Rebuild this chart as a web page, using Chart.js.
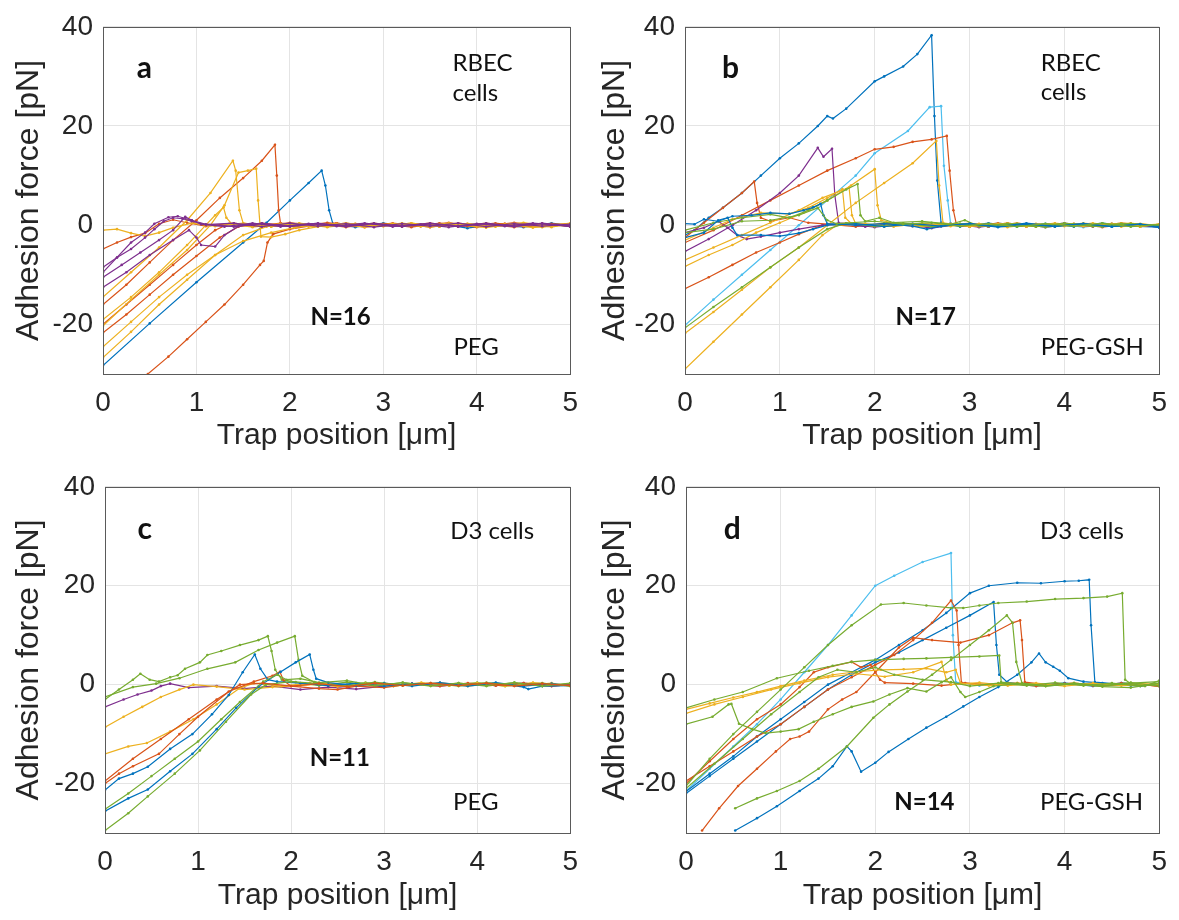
<!DOCTYPE html>
<html>
<head>
<meta charset="utf-8">
<script src="https://cdn.jsdelivr.net/npm/chart.js@4.4.1/dist/chart.umd.min.js"></script>
<style>
body{margin:0;background:#fff;}
#wrap{position:relative;width:1179px;height:920px;}
canvas{position:absolute;}
</style>
</head>
<body>
<div id="wrap">
<canvas id="pa" width="590" height="460" style="left:0;top:0"></canvas>
<canvas id="pb" width="589" height="460" style="left:590px;top:0"></canvas>
<canvas id="pc" width="590" height="460" style="left:0;top:460px"></canvas>
<canvas id="pd" width="589" height="460" style="left:590px;top:460px"></canvas>
</div>
<script>
// axis ticks
const xTicks = [0, 1, 2, 3, 4, 5];
const yTicks = [-20, 0, 20, 40];

// traces, [trap position um, force pN]
// a: RBEC cells, PEG
const panelA = [
  [[0,-28.3],[0.5,-19.8],[1,-11.5],[1.5,-3.5],[1.75,0.5],[2,5],[2.2,8.5],[2.34,11],[2.38,8],[2.42,3],[2.46,0.3],[2.7,-0.4],[3,0.4],[3.3,-0.3],[3.6,0.3],[3.9,-0.6],[4.2,0.2],[4.5,-0.4],[4.8,0.4],[5,-0.1]],
  [[0,-4.8],[0.15,-3.5],[0.3,-2.4],[0.45,-1.6],[0.6,0.3],[0.75,1.1],[0.9,0.5],[1.1,-0.2],[1.4,0.4],[1.7,-0.3],[2,0.5],[2.3,-0.2],[2.6,0.4],[2.9,-0.3],[3.2,0.3],[3.5,-0.4],[3.8,0.4],[4.1,-0.2],[4.4,0.5],[4.7,-0.3],[5,0.3]],
  [[0,-16],[0.25,-12],[0.5,-7.5],[0.75,-3],[1,1],[1.25,5.5],[1.5,9.5],[1.7,13],[1.84,16.2],[1.86,10],[1.88,3],[1.9,0.4],[2.1,-0.3],[2.4,0.5],[2.7,-0.2],[3,0.3],[3.3,-0.4],[3.6,0.4],[3.9,-0.2],[4.2,0.4],[4.5,-0.3],[4.8,0.3],[5,0]],
  [[0,-20],[0.25,-16],[0.5,-12],[0.75,-8],[1,-4],[1.2,-1],[1.35,0.3],[1.6,-0.3],[1.9,0.4],[2.2,-0.2],[2.5,0.4],[2.8,-0.4],[3.1,0.2],[3.4,-0.2],[3.7,0.5],[4,-0.3],[4.3,0.3],[4.6,-0.2],[5,0.3]],
  [[0,-21.7],[0.25,-18],[0.5,-14],[0.75,-10],[1,-6.2],[1.25,-2.5],[1.45,-0.3],[1.7,0.4],[2,-0.2],[2.3,0.3],[2.6,-0.4],[2.9,0.3],[3.2,-0.1],[3.5,0.4],[3.8,-0.3],[4.1,0.2],[4.4,-0.4],[4.7,0.3],[5,-0.2]],
  [[0.48,-30],[0.7,-26.5],[0.9,-23],[1.1,-19.5],[1.3,-16],[1.5,-12],[1.68,-8],[1.72,-7.2],[1.76,-3.5],[1.82,-1.8],[2,-0.8],[2.2,-0.2],[2.5,0.4],[2.8,-0.3],[3.1,0.4],[3.4,-0.2],[3.7,0.3],[4,-0.4],[4.3,0.3],[4.6,-0.2],[5,0.2]],
  [[0,-20.3],[0.3,-15],[0.6,-10],[0.9,-5],[1.15,0],[1.3,4],[1.45,10.6],[1.55,11],[1.64,11.4],[1.66,5],[1.69,-2.3],[1.8,-2.4],[1.95,-1.8],[2.1,-1],[2.3,-0.3],[2.6,0.3],[2.9,-0.3],[3.2,0.4],[3.5,-0.3],[3.8,0.2],[4.1,-0.5],[4.4,0.3],[4.7,-0.3],[5,0.4]],
  [[0,-14.5],[0.3,-9.5],[0.6,-4.5],[0.9,1],[1.15,6.5],[1.39,13],[1.42,11],[1.46,3],[1.5,0.4],[1.8,-0.3],[2.1,0.4],[2.4,-0.3],[2.7,0.3],[3,-0.2],[3.3,0.4],[3.6,-0.3],[3.9,0.3],[4.2,-0.3],[4.5,0.4],[4.8,-0.4],[5,0.3]],
  [[0,-19],[0.3,-14.5],[0.6,-9.5],[0.9,-4],[1.1,0],[1.2,2],[1.29,3.6],[1.32,1.5],[1.38,0.2],[1.6,-0.4],[1.9,0.3],[2.2,-0.2],[2.5,0.3],[2.8,-0.4],[3.1,0.3],[3.4,-0.2],[3.7,0.4],[4,-0.3],[4.3,0.2],[4.6,-0.5],[5,0.2]],
  [[0,-26.7],[0.3,-21.5],[0.6,-16],[0.9,-11],[1.2,-6],[1.5,-2],[1.75,-0.3],[2,0.3],[2.3,-0.3],[2.6,0.4],[2.9,-0.2],[3.2,0.3],[3.5,-0.4],[3.8,0.3],[4.1,-0.2],[4.4,0.3],[4.7,-0.4],[5,0.2]],
  [[0,-24.5],[0.3,-19.5],[0.6,-14.5],[0.9,-10],[1.2,-6],[1.5,-3.2],[1.8,-1.5],[2.05,-0.5],[2.3,0.2],[2.6,-0.3],[2.9,0.4],[3.2,-0.3],[3.5,0.3],[3.8,-0.2],[4.1,0.4],[4.4,-0.3],[4.7,0.3],[5,-0.3]],
  [[0,-1],[0.15,-0.8],[0.3,-1.6],[0.45,-2.2],[0.6,-1.5],[0.75,-0.5],[0.95,0.4],[1.2,-0.2],[1.5,0.4],[1.8,-0.3],[2.1,0.3],[2.4,-0.4],[2.7,0.3],[3,-0.2],[3.3,0.4],[3.6,-0.3],[3.9,0.3],[4.2,-0.2],[4.5,0.5],[4.8,-0.3],[5,0.2]],
  [[0,-8.5],[0.15,-6.5],[0.3,-4.8],[0.45,-2.5],[0.55,-0.8],[0.65,0.8],[0.75,1.5],[0.85,1.3],[0.95,0.8],[1.1,0.1],[1.4,0.4],[1.7,-0.3],[2,0.4],[2.3,-0.2],[2.6,0.3],[2.9,-0.4],[3.2,0.3],[3.5,-0.2],[3.8,0.4],[4.1,-0.3],[4.4,0.3],[4.7,-0.2],[5,0.2]],
  [[0,-10.5],[0.2,-8],[0.4,-5.5],[0.6,-3],[0.75,-1],[0.88,1.7],[0.95,1],[1.05,0.2],[1.3,-0.3],[1.6,0.4],[1.9,-0.3],[2.2,0.3],[2.5,-0.2],[2.8,0.4],[3.1,-0.3],[3.4,0.2],[3.7,-0.4],[4,0.3],[4.3,-0.2],[4.6,0.4],[5,-0.2]],
  [[0,-12.5],[0.25,-9.5],[0.5,-6],[0.75,-3],[0.92,-1],[1,-2.5],[1.05,-4],[1.2,-4.3],[1.3,-2],[1.45,-0.2],[1.7,0.4],[2,-0.3],[2.3,0.3],[2.6,-0.2],[2.9,0.4],[3.2,-0.3],[3.5,0.3],[3.8,-0.3],[4.1,0.4],[4.4,-0.2],[4.7,0.3],[5,-0.3]],
  [[0,-9.5],[0.15,-6.5],[0.3,-3.5],[0.45,-1.5],[0.55,0.3],[0.7,1.6],[0.8,1.8],[0.95,1],[1.1,0.2],[1.4,-0.3],[1.7,0.3],[2,-0.2],[2.3,0.4],[2.6,-0.3],[2.9,0.3],[3.2,-0.2],[3.5,0.4],[3.8,-0.2],[4.1,0.3],[4.4,-0.3],[4.7,0.4],[5,-0.2]]
];
const colorsA = ['blue','orange','orange','orange','orange','orange','yellow','yellow','yellow','yellow','yellow','yellow','purple','purple','purple','purple'];

// b: RBEC cells, PEG-GSH
const panelB = [
  [[0,-2],[0.1,-1],[0.25,1.5],[0.4,3.5],[0.6,6.5],[0.8,10],[1,13.5],[1.2,16.5],[1.4,20],[1.5,22],[1.56,21.5],[1.7,23.5],[2,29],[2.1,30],[2.3,32],[2.45,34.5],[2.6,38.3],[2.63,22],[2.66,9],[2.7,0.5],[2.9,-0.3],[3.2,0.4],[3.5,-0.3],[3.8,0.3],[4.1,-0.3],[4.4,0.4],[4.7,-0.2],[5,-0.4]],
  [[0,-20.2],[0.3,-15],[0.6,-10],[0.9,-5],[1.2,0],[1.5,5],[1.8,10],[2,14.5],[2.35,19],[2.58,23.8],[2.7,24],[2.73,12],[2.77,5],[2.8,0.4],[3,-0.3],[3.3,0.4],[3.6,-0.2],[3.9,0.3],[4.2,-0.4],[4.5,0.3],[4.8,-0.3],[5,0]],
  [[0,-3.5],[0.3,-1],[0.6,2],[0.9,5],[1.2,8],[1.5,11],[1.8,13.5],[2,15.3],[2.2,15.8],[2.4,16.8],[2.6,17.3],[2.76,18],[2.79,11],[2.83,3],[2.86,0.3],[3.1,-0.3],[3.4,0.4],[3.7,-0.3],[4,0.3],[4.3,-0.2],[4.6,0.4],[5,-0.2]],
  [[0,-2.5],[0.2,0.5],[0.4,3.5],[0.6,6.5],[0.73,8.8],[0.76,4.5],[0.8,1.5],[0.9,0.8],[1.1,1.5],[1.3,0.5],[1.5,0.2],[1.8,-0.3],[2.1,0.4],[2.4,-0.2],[2.7,0.3],[3,-0.3],[3.3,0.4],[3.6,-0.3],[3.9,0.3],[4.2,-0.2],[4.5,0.3],[4.8,-0.3],[5,0.2]],
  [[0,-12.8],[0.25,-10.5],[0.5,-8],[0.75,-5.5],[1,-3.5],[1.2,-1.8],[1.45,0],[1.7,0.4],[2,-0.3],[2.3,0.3],[2.6,-0.4],[2.9,0.2],[3.2,-0.3],[3.5,0.4],[3.8,-0.2],[4.1,0.3],[4.4,-0.4],[4.7,0.3],[5,-0.3]],
  [[0,-5.3],[0.25,-2.8],[0.5,0],[0.75,3],[1,6.5],[1.2,10],[1.4,15.6],[1.46,13.8],[1.55,15.4],[1.58,6],[1.62,0.5],[1.9,-0.3],[2.2,0.4],[2.5,-0.2],[2.8,0.3],[3.1,-0.4],[3.4,0.3],[3.7,-0.2],[4,0.4],[4.3,-0.3],[4.6,0.3],[5,-0.4]],
  [[0,-1.5],[0.2,-0.5],[0.35,0.8],[0.45,-0.5],[0.55,-2],[0.65,-2.8],[0.8,-2.3],[1,-1.5],[1.2,-0.8],[1.45,0],[1.7,0.3],[2,-0.4],[2.3,0.2],[2.6,-0.6],[2.9,0.2],[3.2,-0.3],[3.5,0.3],[3.8,-0.4],[4.1,0.2],[4.4,-0.3],[4.7,0.3],[5,-0.3]],
  [[0,-8.3],[0.25,-6],[0.5,-4],[0.75,-1.5],[1,0.5],[1.25,2.5],[1.5,5],[1.75,8],[2,11.3],[2.03,4],[2.07,1],[2.2,0.4],[2.5,-0.3],[2.8,0.3],[3.1,-0.2],[3.4,0.4],[3.7,-0.3],[4,0.3],[4.3,-0.2],[4.6,0.4],[5,0]],
  [[0,-21.8],[0.3,-17.5],[0.6,-13],[0.9,-8.5],[1.2,-4.5],[1.5,0],[1.8,4.5],[2.1,8.5],[2.4,12.5],[2.65,17],[2.68,8],[2.72,0.5],[3,-0.3],[3.3,0.3],[3.6,-0.3],[3.9,0.4],[4.2,-0.2],[4.5,0.3],[4.8,-0.3],[5,0.2]],
  [[0,-29],[0.3,-23.5],[0.6,-18],[0.9,-12.5],[1.2,-7],[1.45,-2],[1.6,0],[1.9,0.3],[2.2,-0.3],[2.5,0.4],[2.8,-0.2],[3.1,0.3],[3.4,-0.4],[3.7,0.3],[4,-0.2],[4.3,0.4],[4.6,-0.3],[5,0.2]],
  [[0,-7],[0.3,-4.5],[0.6,-2],[0.9,0.5],[1.2,3],[1.45,5.5],[1.73,7.6],[1.76,2],[1.8,0.3],[2.1,-0.3],[2.4,0.3],[2.7,-0.2],[3,0.4],[3.3,-0.3],[3.6,0.3],[3.9,-0.3],[4.2,0.4],[4.5,-0.2],[4.8,0.3],[5,-0.2]],
  [[0,-3],[0.3,-0.5],[0.5,1.2],[0.8,2.5],[1.1,2.3],[1.3,3.5],[1.5,5.5],[1.66,7.3],[1.69,1.5],[1.75,0.4],[2,-0.2],[2.3,0.3],[2.6,-0.3],[2.9,0.3],[3.2,-0.2],[3.5,0.4],[3.8,-0.3],[4.1,0.3],[4.4,-0.2],[4.7,0.4],[5,-0.3]],
  [[0,-1],[0.3,0.5],[0.6,1.5],[0.9,2.2],[1.1,1.5],[1.3,3],[1.5,5],[1.7,7.2],[1.82,8.3],[1.85,2],[1.9,0.8],[2.05,1.5],[2.2,0.5],[2.5,0.8],[2.8,0.2],[2.95,1],[3.1,-0.2],[3.4,0.3],[3.7,-0.3],[4,0.4],[4.3,-0.2],[4.6,0.3],[5,0]],
  [[0,-20.7],[0.3,-16.5],[0.6,-12.5],[0.9,-8.5],[1.2,-4.5],[1.5,-0.8],[1.7,0.4],[2,-0.2],[2.3,0.4],[2.6,-0.3],[2.9,0.3],[3.2,-0.2],[3.5,0.3],[3.8,-0.4],[4.1,0.2],[4.4,-0.3],[4.7,0.3],[5,-0.2]],
  [[0,0.3],[0.1,0.2],[0.2,1.2],[0.35,0.8],[0.5,1.8],[0.7,2],[0.9,2.5],[1.1,2.3],[1.25,3],[1.35,3.6],[1.43,4.3],[1.46,2],[1.5,0.3],[1.8,0],[2.1,0.3],[2.4,-0.2],[2.55,-0.8],[2.7,-0.2],[3,0.3],[3.3,-0.3],[3.6,0.4],[3.9,-0.2],[4.2,0.3],[4.5,-0.3],[4.8,0.2],[5,-0.5]],
  [[0,-2.5],[0.2,-1.5],[0.35,1],[0.45,1.5],[0.5,-0.5],[0.55,-2],[0.8,-2],[1,-2.2],[1.2,-1.6],[1.35,-0.8],[1.5,0],[1.8,0.3],[2.1,-0.3],[2.4,0.3],[2.7,-0.2],[3,0.3],[3.3,-0.4],[3.6,0.2],[3.9,-0.3],[4.2,0.3],[4.5,-0.3],[4.8,0.2],[5,-0.3]],
  [[0,-1.5],[0.3,-0.8],[0.6,0.8],[0.9,1],[1.2,2],[1.4,3.5],[1.5,1],[1.6,0.3],[2,0.8],[2.3,0.2],[2.6,0.5],[2.9,-0.2],[3.2,0.3],[3.5,-0.3],[3.8,0.3],[4.1,-0.2],[4.4,0.4],[4.7,-0.3],[5,0.1]]
];
const colorsB = ['blue','cyan','orange','orange','orange','purple','purple','yellow','yellow','yellow','yellow','yellow','green','green','blue','blue','green'];

// c: D3 cells, PEG
const panelC = [
  [[0,-3],[0.15,-1],[0.3,1],[0.38,2.2],[0.48,1],[0.58,0.6],[0.7,1.5],[0.78,1.9],[0.86,3.2],[1.02,4.5],[1.1,6],[1.25,6.8],[1.45,8],[1.65,9],[1.75,9.8],[1.79,6.8],[1.83,3],[1.9,1],[2.05,0.5],[2.3,-0.2],[2.6,0.5],[2.9,-0.3],[3.2,0.4],[3.5,-0.2],[3.8,0.3],[4.1,-0.3],[4.4,0.4],[4.7,-0.3],[5,0.2]],
  [[0,-2.5],[0.3,-0.5],[0.55,0.2],[0.8,1.3],[1.1,3.2],[1.4,4.5],[1.65,7],[1.85,8.5],[2.04,9.8],[2.08,5],[2.12,1.8],[2.25,0.5],[2.5,-0.2],[2.8,0.4],[3.1,-0.3],[3.4,0.3],[3.7,-0.2],[4,0.4],[4.3,-0.3],[4.6,0.3],[5,-0.2]],
  [[0,-4.5],[0.2,-3],[0.35,-2],[0.5,-1.2],[0.6,-0.3],[0.7,0.2],[0.9,-0.6],[1.2,-0.3],[1.5,-0.8],[1.8,-0.3],[2.1,-1],[2.4,-0.5],[2.7,-0.9],[3,-0.3],[3.3,0.2],[3.6,-0.3],[3.9,0.2],[4.2,-0.2],[4.5,0.3],[4.8,-0.3],[5,0]],
  [[0,-8.6],[0.2,-6.5],[0.4,-4.5],[0.6,-2.5],[0.8,-1],[0.95,0],[1.2,-0.4],[1.5,-1],[1.8,-0.5],[2.1,-0.2],[2.4,0.3],[2.7,-0.3],[3,0.3],[3.3,-0.2],[3.6,0.4],[3.9,-0.3],[4.2,0.3],[4.5,-0.2],[4.8,0.3],[5,-0.3]],
  [[0,-14],[0.25,-12.5],[0.45,-11.8],[0.7,-9.5],[0.95,-7],[1.2,-4],[1.45,-0.7],[1.6,0.3],[1.9,-0.3],[2.2,0.3],[2.5,-0.4],[2.8,0.2],[3.1,-0.3],[3.4,0.4],[3.7,-0.2],[4,0.3],[4.3,-0.3],[4.6,0.4],[5,-0.2]],
  [[0,-20],[0.15,-18],[0.3,-16.5],[0.58,-14],[0.8,-10],[1,-6.5],[1.33,-1.4],[1.6,0.6],[1.8,1.8],[1.88,2.6],[1.92,0.8],[2,-0.3],[2.3,-0.8],[2.5,-1],[2.7,-0.3],[3,-0.6],[3.3,0.2],[3.6,-0.3],[3.9,0.3],[4.2,-0.2],[4.5,0.3],[4.8,-0.3],[5,0]],
  [[0,-21.3],[0.15,-19],[0.3,-18],[0.46,-16.6],[0.7,-13],[0.94,-10],[1.15,-6],[1.33,-2.1],[1.48,2.5],[1.61,6.1],[1.67,3.2],[1.75,1],[1.85,0.6],[2.1,0.3],[2.4,-0.2],[2.7,0.3],[3,-0.3],[3.3,0.2],[3.6,0.2],[3.9,-0.3],[4.2,0.3],[4.5,-0.5],[4.55,-0.9],[4.7,-0.3],[5,-0.2]],
  [[0,-25.6],[0.25,-23],[0.46,-21.2],[0.7,-17.5],[0.94,-14],[1.2,-9],[1.41,-4.7],[1.65,-0.4],[1.89,2.6],[2.05,4.5],[2.2,6.1],[2.24,3],[2.27,1.2],[2.4,0.4],[2.7,-0.2],[3,0.3],[3.3,-0.3],[3.6,0.4],[3.9,-0.2],[4.2,0.4],[4.5,-0.3],[4.8,0.2],[5,-0.2]],
  [[0,-25.2],[0.25,-22],[0.5,-18.5],[0.75,-15],[1,-11.5],[1.25,-7],[1.45,-3.5],[1.7,0.6],[1.85,2],[1.95,1],[2.1,1.2],[2.3,0.4],[2.6,0.8],[2.9,-0.2],[3.2,0.4],[3.5,-0.3],[3.8,0.3],[4.1,-0.2],[4.4,0.4],[4.7,-0.3],[5,0.3]],
  [[0,-29.5],[0.25,-26],[0.46,-22.6],[0.75,-18],[1.02,-13.3],[1.3,-7.5],[1.57,-2],[1.73,0],[2,0.6],[2.3,0.2],[2.6,-0.3],[2.9,0.5],[3.2,-0.2],[3.5,0.3],[3.8,-0.3],[4.1,0.4],[4.4,-0.2],[4.7,0.3],[5,-0.3]],
  [[0,-19.5],[0.3,-15],[0.6,-11],[0.9,-7],[1.2,-3],[1.45,0],[1.7,0.3],[2,-0.3],[2.3,0.2],[2.6,-0.4],[2.9,0.3],[3.2,-0.2],[3.5,0.3],[3.8,-0.2],[4.1,0.3],[4.4,-0.3],[4.7,0.2],[5,-0.2]]
];
const colorsC = ['green','green','purple','yellow','yellow','orange','blue','blue','green','green','orange'];

// d: D3 cells, PEG-GSH
const panelD = [
  [[0,-21.5],[0.25,-17],[0.5,-12.5],[0.75,-8],[1,-3],[1.25,2.5],[1.5,8],[1.75,14],[2,20],[2.2,22],[2.5,24.8],[2.8,26.6],[2.82,10],[2.85,0.5],[3.1,-0.2],[3.4,0.3],[3.7,-0.3],[4,0.3],[4.3,-0.2],[4.6,0.3],[5,-0.2]],
  [[0,-21.6],[0.25,-18],[0.5,-14.5],[0.75,-10.5],[1,-7],[1.25,-3.5],[1.5,0],[1.75,2.5],[2,5],[2.25,8],[2.5,11],[2.75,14.5],[3,18.5],[3.2,20],[3.5,20.6],[3.75,20.5],[4,20.9],[4.15,21],[4.26,21.2],[4.28,12],[4.32,0.5],[4.5,0.2],[4.8,-0.3],[5,0.1]],
  [[0,-22],[0.25,-18.5],[0.5,-15],[0.75,-11.5],[1,-8],[1.25,-4.5],[1.5,-1],[1.75,2],[2,4.5],[2.25,6.5],[2.5,9],[2.75,11.5],[3,14],[3.25,16.7],[3.28,8],[3.31,2],[3.4,0.4],[3.7,-0.2],[4,0.3],[4.3,-0.3],[4.6,0.3],[5,-0.2]],
  [[0.52,-29.5],[0.75,-27],[0.96,-24.6],[1.2,-21.5],[1.4,-19],[1.55,-16.5],[1.7,-12.5],[1.75,-13.5],[1.85,-17.6],[2,-15.8],[2.14,-13.6],[2.35,-11],[2.54,-8.7],[2.75,-6.5],[2.93,-4.4],[3.1,-2.5],[3.3,-0.5],[3.5,2],[3.65,4.5],[3.73,6.3],[3.8,4.5],[3.88,3.6],[3.95,2.8],[4.04,1.3],[4.2,0.6],[4.4,0.3],[4.7,-0.2],[5,0.2]],
  [[0.17,-29.5],[0.35,-25],[0.55,-20.5],[0.75,-17],[0.95,-13.5],[1.1,-11],[1.2,-10.5],[1.3,-9.5],[1.5,-5],[1.65,-3],[1.8,-1.5],[2,2.5],[2.25,7.5],[2.4,9.5],[2.6,9],[2.9,8.5],[3.2,10],[3.45,12.5],[3.53,13],[3.55,9],[3.58,0.5],[3.8,0],[4.1,0.3],[4.4,-0.2],[4.7,0.2],[5,-0.3]],
  [[0,-19.5],[0.25,-16.5],[0.5,-13.5],[0.75,-10.5],[1,-8],[1.25,-4.5],[1.5,-1],[1.75,1.5],[2,4],[2.2,6],[2.4,9],[2.6,12.5],[2.8,17],[2.86,15],[2.88,8],[2.91,0.4],[3.1,0],[3.4,0.3],[3.7,-0.3],[4,0.2],[4.3,-0.2],[4.6,0.3],[5,-0.3]],
  [[0,-20],[0.25,-15.5],[0.5,-11],[0.75,-7],[1,-4],[1.2,-0.5],[1.35,2.5],[1.5,3.5],[1.75,4.6],[1.85,3.5],[1.95,4],[2.05,1],[2.1,0.4],[2.4,0.2],[2.7,-0.2],[2.95,0.3],[3.2,0],[3.5,0.3],[3.8,-0.2],[4.1,0.2],[4.4,-0.3],[4.7,0.2],[5,-0.3]],
  [[0,-5],[0.25,-3.8],[0.5,-2.6],[0.75,-1.5],[1,-0.3],[1.25,0.8],[1.55,2],[1.8,2.6],[2.06,3],[2.3,3.1],[2.54,3.3],[2.75,2.5],[2.85,3],[2.9,0.3],[3.2,-0.2],[3.5,0.3],[3.8,-0.2],[4.1,0.3],[4.4,-0.2],[4.7,0.3],[5,0]],
  [[0,-5.8],[0.3,-4],[0.6,-2.5],[0.9,-1],[1.2,0.3],[1.5,1.5],[1.8,2.2],[2.1,1.6],[2.4,2.5],[2.7,4.6],[2.75,1],[2.8,0],[3.1,0.4],[3.4,-0.2],[3.7,0.3],[4,-0.3],[4.3,0.3],[4.6,-0.2],[5,0.2]],
  [[0,-8],[0.28,-6.5],[0.45,-4],[0.48,-3.9],[0.56,-7.9],[0.7,-9],[0.84,-9.8],[1,-9.5],[1.19,-9],[1.35,-7.5],[1.55,-6],[1.75,-4.5],[1.98,-3.4],[2.15,-2],[2.34,-0.7],[2.54,-1.4],[2.7,0.5],[2.8,1.5],[2.9,-1.5],[2.95,-2.5],[3.1,-1.5],[3.25,-0.3],[3.5,0.2],[3.8,-0.3],[4.1,0.2],[4.4,-0.4],[4.7,-0.6],[5,0.3]],
  [[0,-4.7],[0.3,-3],[0.6,-1.5],[0.96,1.3],[1.3,2.8],[1.55,3.8],[1.75,4.6],[2,5],[2.3,5.2],[2.54,5.3],[2.8,5.5],[3.1,5.7],[3.31,5.9],[3.33,0.5],[3.5,0.2],[3.8,-0.3],[4.1,0.2],[4.4,-0.3],[4.7,0.3],[5,0.6]],
  [[0,-20.5],[0.25,-15],[0.5,-10],[0.75,-5.5],[1,-1],[1.25,3.5],[1.5,8],[1.75,12],[2.06,16.2],[2.3,16.5],[2.54,16],[2.8,15.5],[2.93,15.5],[3.1,16],[3.3,16.5],[3.6,16.8],[3.9,17.3],[4.2,17.5],[4.45,17.8],[4.61,18.5],[4.64,1],[4.7,0.2],[4.85,-0.3],[5,0.8]],
  [[0.52,-25],[0.75,-23],[0.96,-21.5],[1.2,-19.5],[1.4,-17],[1.7,-12.5],[1.98,-6.7],[2.15,-4],[2.34,-1.4],[2.6,2],[2.8,5],[3,8],[3.2,11],[3.39,14],[3.45,12.5],[3.49,4.6],[3.55,0.3],[3.8,-0.2],[4.1,0.3],[4.4,-0.2],[4.7,0.4],[5,-0.3]],
  [[0,-21],[0.3,-16],[0.6,-11],[0.9,-6],[1.2,-1.5],[1.4,1.5],[1.6,3],[1.8,2.5],[2,3.5],[2.2,2],[2.5,1],[2.8,0.5],[3,-0.3],[3.3,0.3],[3.6,-0.2],[3.9,0.4],[4.2,-0.2],[4.5,0.3],[4.8,-0.3],[5,0.2]]
];
const colorsD = ['cyan','blue','blue','blue','orange','orange','orange','yellow','yellow','green','green','green','green','green'];

const palette = {blue:'#0072BD', orange:'#D95319', yellow:'#EDB120', purple:'#7E2F8E', green:'#77AC30', cyan:'#4DBEEE'};

// panel texts (placed in data units)
const notesA = [
  {text:'a', x:0.36, y:29.6, bold:true, size:30},
  {text:'RBEC', x:3.74, y:31, size:24},
  {text:'cells', x:3.74, y:25.1, size:24},
  {text:'N=16', x:2.22, y:-20.2, bold:true, size:24},
  {text:'PEG', x:3.75, y:-26.1, size:24}
];
const notesB = [
  {text:'b', x:0.39, y:29.6, bold:true, size:30},
  {text:'RBEC', x:3.75, y:31, size:24},
  {text:'cells', x:3.75, y:25.2, size:24},
  {text:'N=17', x:2.22, y:-20.2, bold:true, size:24},
  {text:'PEG-GSH', x:3.75, y:-26.1, size:24}
];
const notesC = [
  {text:'c', x:0.35, y:29.4, bold:true, size:30},
  {text:'D3 cells', x:3.71, y:29.4, size:24},
  {text:'N=11', x:2.2, y:-16.4, bold:true, size:24},
  {text:'PEG', x:3.74, y:-25.4, size:24}
];
const notesD = [
  {text:'d', x:0.4, y:29.4, bold:true, size:30},
  {text:'D3 cells', x:3.74, y:29.4, size:24},
  {text:'N=14', x:2.2, y:-25.4, bold:true, size:24},
  {text:'PEG-GSH', x:3.74, y:-25.4, size:24}
];

const axisFont = 'Liberation Sans, Arial, sans-serif';

// box around plot + text labels
const boxNotes = {
  id: 'boxNotes',
  afterDraw(chart, args, opts) {
    const {ctx, chartArea: a, scales} = chart;
    ctx.save();
    ctx.strokeStyle = '#5a5a5a';
    ctx.lineWidth = 1;
    ctx.strokeRect(Math.round(a.left) + 0.5, Math.round(a.top) + 0.5, Math.round(a.right - a.left), Math.round(a.bottom - a.top));
    ctx.fillStyle = '#111';
    ctx.textAlign = 'left';
    ctx.textBaseline = 'alphabetic';
    opts.items.forEach(n => {
      ctx.font = (n.bold ? 'bold ' : '') + n.size + 'px Lato, "Open Sans", sans-serif';
      ctx.fillText(n.text, scales.x.getPixelForValue(n.x), scales.y.getPixelForValue(n.y));
    });
    ctx.restore();
  }
};

function makePanel(id, traces, colors, notes, g) {
  const ctx = document.getElementById(id);
  new Chart(ctx, {
    type: 'scatter',
    data: {
      datasets: traces.map((t, i) => ({
        data: t.map(p => ({x: p[0], y: p[1]})),
        showLine: true,
        borderColor: palette[colors[i]],
        backgroundColor: palette[colors[i]],
        borderWidth: 1.2,
        pointRadius: 1.3,
        pointBorderWidth: 0,
        pointHoverRadius: 0,
        order: -i
      }))
    },
    options: {
      responsive: false,
      animation: false,
      events: [],
      layout: {padding: {left: 0, top: g.top, right: g.right, bottom: 0}},
      plugins: {
        legend: {display: false},
        tooltip: {enabled: false},
        boxNotes: {items: notes}
      },
      scales: {
        x: {
          type: 'linear', min: 0, max: 5,
          afterBuildTicks: s => { s.ticks = xTicks.map(v => ({value: v})); },
          afterFit: s => { s.height = g.bottom; },
          grid: {color: '#e4e4e4', drawTicks: false},
          border: {display: false},
          ticks: {padding: 12, color: '#262626', font: {family: axisFont, size: 28}},
          title: {display: true, text: 'Trap position [\u03BCm]', color: '#262626',
            font: {family: axisFont, size: 30}, padding: {top: 0, bottom: 6}}
        },
        y: {
          type: 'linear', min: -30, max: 40,
          afterBuildTicks: s => { s.ticks = yTicks.map(v => ({value: v})); },
          afterFit: s => { s.width = g.left; },
          grid: {color: '#e4e4e4', drawTicks: false},
          border: {display: false},
          ticks: {padding: 10, color: '#262626', font: {family: axisFont, size: 28}},
          title: {display: true, text: 'Adhesion force [pN]', color: '#262626',
            font: {family: axisFont, size: 32}, padding: {top: g.ytp, bottom: 0}}
        }
      }
    },
    plugins: [boxNotes]
  });
}

makePanel('pa', panelA, colorsA, notesA, {left: 103, top: 23, right: 10, bottom: 86, ytp: 10});
makePanel('pb', panelB, colorsB, notesB, {left: 95, top: 23, right: 17, bottom: 86, ytp: 6});
makePanel('pc', panelC, colorsC, notesC, {left: 105, top: 22, right: 9, bottom: 87, ytp: 10});
makePanel('pd', panelD, colorsD, notesD, {left: 96, top: 22, right: 16, bottom: 87, ytp: 6});
</script>
</body>
</html>
